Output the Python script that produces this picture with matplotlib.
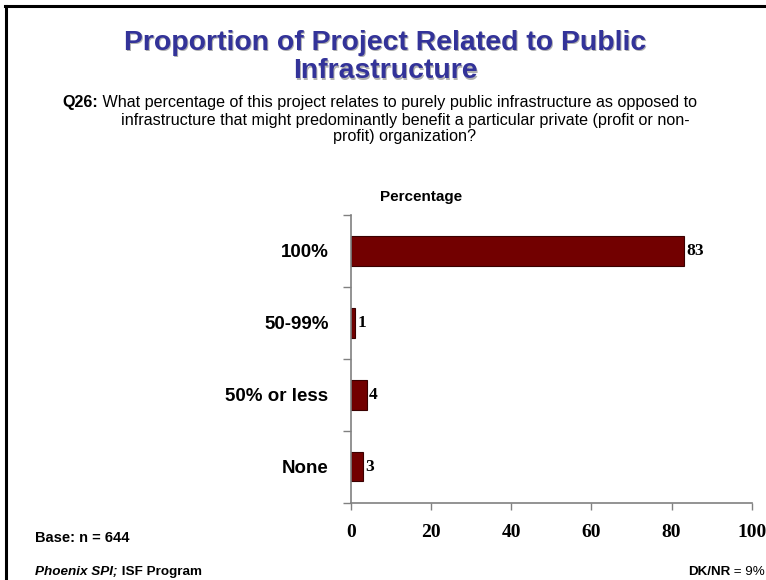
import matplotlib.pyplot as plt
from matplotlib.lines import Line2D

# survey results, top to bottom
categories = ['100%', '50-99%', '50% or less', 'None']
values = [83, 1, 4, 3]
xticks = [0, 20, 40, 60, 80, 100]

title = 'Proportion of Project Related to Public\nInfrastructure'
question_1 = 'What percentage of this project relates to purely public infrastructure as opposed to'
question_2 = 'infrastructure that might predominantly benefit a particular private (profit or non-'
question_3 = 'profit) organization?'

sans = 'Liberation Sans'
serif = 'Liberation Serif'

W, H = 766, 580
fig = plt.figure(figsize=(W / 100, H / 100), dpi=100)

def fx(px):
    return px / W

def fy(py):
    return 1 - py / H

# main axes first, annotations hang off it
ax = fig.add_axes([fx(350.7), fy(502.7), fx(751.7) - fx(350.7), fy(215) - fy(502.7)])

# frame lines on the slide (left and top)
fig.add_artist(Line2D([fx(6), fx(6)], [fy(6), fy(580)], color='black', lw=2.2))
fig.add_artist(Line2D([fx(5), fx(766)], [fy(6), fy(6)], color='black', lw=2.2))

# title with a soft grey shadow
for dx, dy, col in [(1.5, -1.5, '#b0b0b0'), (0, 0, '#333399')]:
    fig.text(fx(385) + dx / W, fy(57) + dy / H, title, ha='center', va='center',
             fontsize=20.4, fontweight='bold', family=sans, color=col, linespacing=1.15)

# question text
qs = 11.6
q = fig.text(fx(62), fy(103), 'Q26:', ha='left', va='center', fontsize=qs,
             fontweight='bold', family=sans)
ax.annotate(' ' + question_1, xy=(1, 0.5), xycoords=q, ha='left', va='center',
            fontsize=qs, family=sans)
fig.text(fx(405), fy(120), question_2, ha='center', va='center', fontsize=qs, family=sans)
fig.text(fx(405), fy(137), question_3, ha='center', va='center', fontsize=qs, family=sans)

ypos = list(range(len(categories)))
ax.barh(ypos, values, height=0.41, color='#720000', edgecolor='#3a0000', linewidth=0.8)
for y, v in zip(ypos, values):
    ax.text(v + 0.6, y, str(v), ha='left', va='center', fontsize=12.5,
            fontweight='bold', family=serif)

ax.set_xlim(0, 100)
ax.set_ylim(len(categories) - 0.5, -0.5)
ax.set_xticks(xticks)
ax.set_xticklabels([str(t) for t in xticks], fontsize=14, fontweight='bold', family=serif)
ax.tick_params(axis='x', direction='out', length=5, width=1, color='#808080', pad=10)

ax.set_yticks(ypos)
ax.set_yticklabels(categories, fontsize=13.5, fontweight='bold', family=sans)
ax.tick_params(axis='y', which='major', length=0, pad=16)
ax.set_yticks([i - 0.5 for i in range(len(categories) + 1)], minor=True)
ax.tick_params(axis='y', which='minor', direction='out', length=6, width=1, color='#808080')

for s in ['top', 'right']:
    ax.spines[s].set_visible(False)
for s in ['left', 'bottom']:
    ax.spines[s].set_color('#808080')
    ax.spines[s].set_linewidth(1.2)

fig.text(fx(421), fy(197), 'Percentage', ha='center', va='center', fontsize=11,
         fontweight='bold', family=sans)

fig.text(fx(35), fy(538), 'Base: n = 644', ha='left', va='center', fontsize=10.5,
         fontweight='bold', family=sans)
p = fig.text(fx(35), fy(572), 'Phoenix SPI;', ha='left', va='center', fontsize=9.7,
             fontweight='bold', fontstyle='italic', family=sans)
ax.annotate(' ISF Program', xy=(1, 0.5), xycoords=p, ha='left', va='center',
            fontsize=9.7, fontweight='bold', family=sans)
d = fig.text(fx(688), fy(572), 'DK/NR', ha='left', va='center', fontsize=9.6,
             fontweight='bold', family=sans)
ax.annotate(' = 9%', xy=(1, 0.5), xycoords=d, ha='left', va='center',
            fontsize=9.6, family=sans)

fig.savefig('out.png', dpi=100)
